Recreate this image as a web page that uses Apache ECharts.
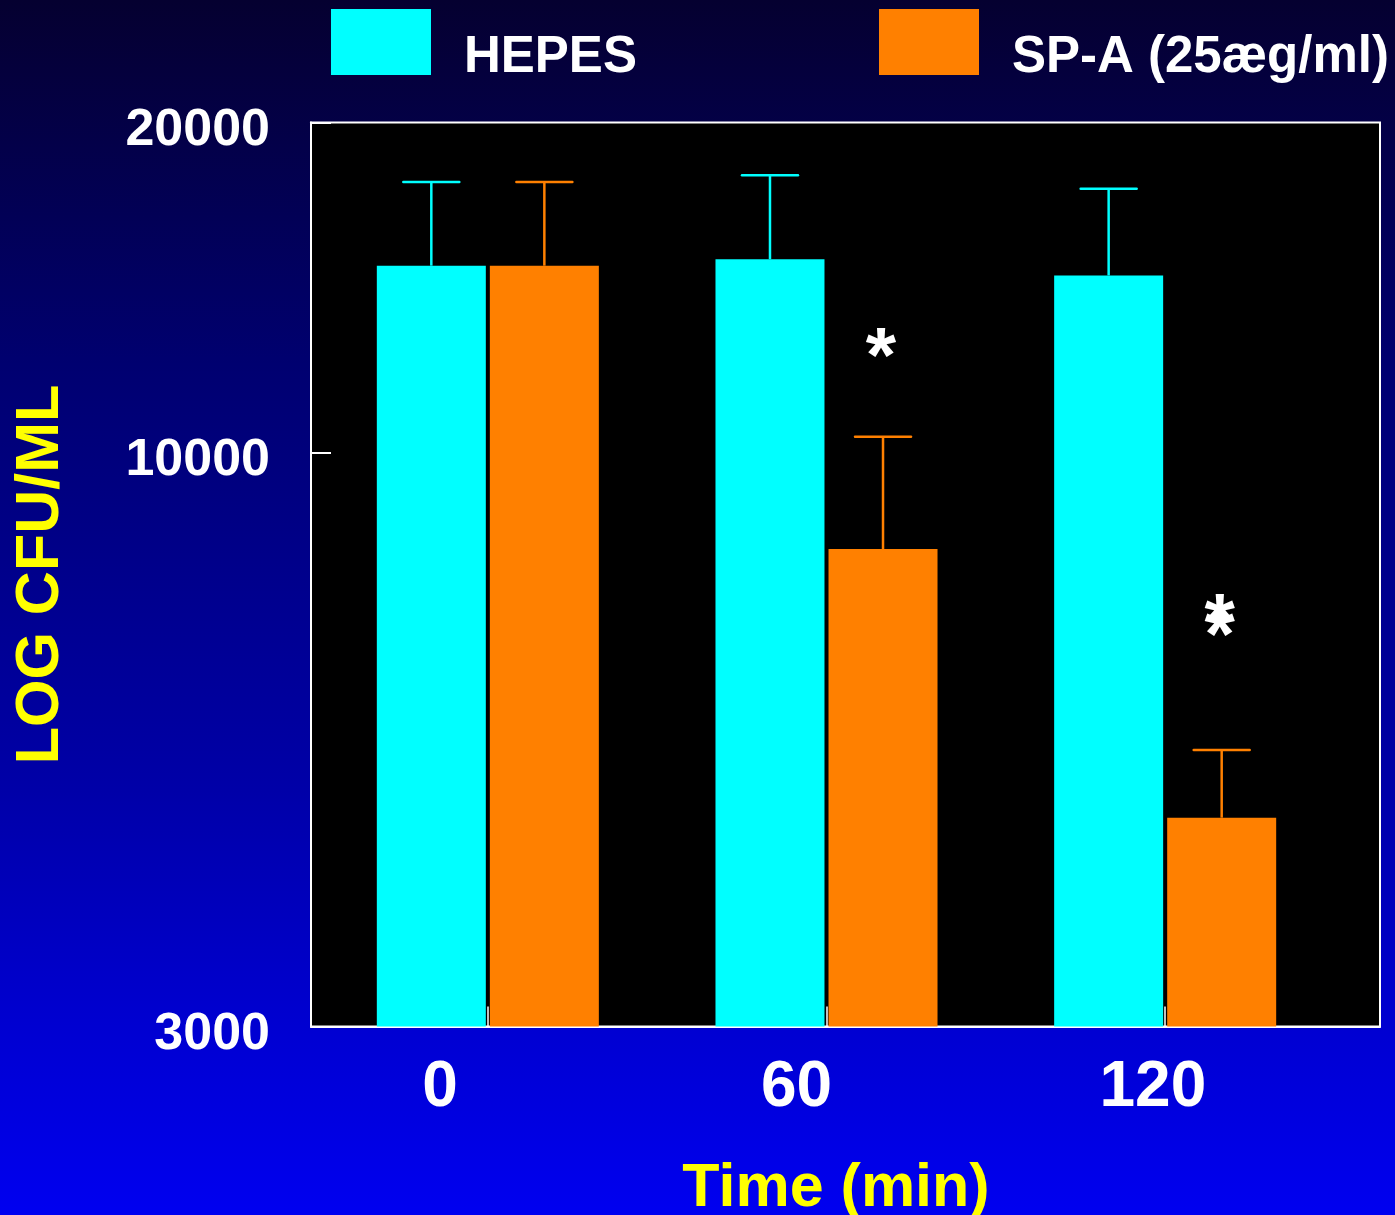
<!DOCTYPE html>
<html>
<head>
<meta charset="utf-8">
<script src="https://cdn.jsdelivr.net/npm/echarts@6/dist/echarts.min.js"></script>
<style>
html,body{margin:0;padding:0;background:#000050;}
#chart{width:1395px;height:1215px;}
</style>
</head>
<body>
<div id="chart"></div>
<script>
// ---- data ----
const timeLabels = ['0', '60', '120'];
const seriesNames = ['HEPES', 'SP-A (25æg/ml)'];
const hepesMean = [14810, 15010, 14510];
const hepesErrTop = [17650, 17900, 17400];
const spaMean = [14810, 8170, 4650];
const spaErrTop = [17650, 10340, 5360];
// significance asterisks: [category index, value at glyph centre]
const sigMarks = [[1, 12540], [2, 7176], [2, 6983]];
const yMin = 3000;
const yMax = 20000;

// ---- style constants ----
const FONT = "'Liberation Sans', Arial, sans-serif";
const CYAN = '#00FFFF';
const ORANGE = '#FF8000';
const BAR_W = 109;
const BAR_GAP = 0.037;
const HALF_STEP = (BAR_W + BAR_W * BAR_GAP) / 2;
const CAP_W = 56;
const AST_SIZE = 78;

function errRender(sign, color) {
  return function (params, api) {
    const c = api.value(0);
    const base = api.coord([c, api.value(1)]);
    const top = api.coord([c, api.value(2)]);
    const x = base[0] + sign * HALF_STEP;
    return {
      type: 'group',
      children: [
        { type: 'line', shape: { x1: x, y1: base[1], x2: x, y2: top[1] }, style: { stroke: color, lineWidth: 2.5 } },
        { type: 'line', shape: { x1: x - CAP_W / 2, y1: top[1], x2: x + CAP_W / 2, y2: top[1] }, style: { stroke: color, lineWidth: 2.5, lineCap: 'round' } }
      ]
    };
  };
}

function astRender(params, api) {
  const p = api.coord([api.value(0), api.value(1)]);
  return {
    type: 'text',
    x: p[0] + HALF_STEP - 2,
    y: p[1] + 0.23 * AST_SIZE - 2,
    style: {
      text: '*', fill: '#fff', font: 'bold ' + AST_SIZE + 'px ' + FONT,
      align: 'center', verticalAlign: 'middle'
    }
  };
}

const chart = echarts.init(document.getElementById('chart'), null, { renderer: 'canvas' });
const legendText = {
  color: '#fff', fontSize: 51, fontWeight: 'bold', fontFamily: FONT,
  rich: { t: { color: '#fff', fontSize: 51, fontWeight: 'bold', fontFamily: FONT, padding: [32, 0, 0, 28] } }
};
const legendFmt = function (name) { return '{t|' + name + '}'; };

chart.setOption({
  animation: false,
  backgroundColor: {
    type: 'linear', x: 0, y: 0, x2: 0, y2: 1,
    colorStops: [
      { offset: 0, color: '#050030' },
      { offset: 0.3, color: '#000070' },
      { offset: 0.65, color: '#0000A8' },
      { offset: 0.8, color: '#0000C8' },
      { offset: 1, color: '#0000F0' }
    ]
  },
  legend: [
    { left: 331, top: 9, padding: 0, itemWidth: 100, itemHeight: 66, icon: 'rect', data: [seriesNames[0]], textStyle: legendText, formatter: legendFmt, selectedMode: false },
    { left: 879, top: 9, padding: 0, itemWidth: 100, itemHeight: 66, icon: 'rect', data: [seriesNames[1]], textStyle: legendText, formatter: legendFmt, selectedMode: false }
  ],
  grid: [
    { left: 311, top: 122.5, width: 1069, height: 904, outerBoundsMode: 'none', containLabel: false, show: true, backgroundColor: '#000', borderColor: '#fff', borderWidth: 2 },
    { left: 318.5, top: 122.5, width: 1016, height: 904, outerBoundsMode: 'none', containLabel: false }
  ],
  xAxis: [
    {
      gridIndex: 0, type: 'category', data: timeLabels,
      axisLine: { show: true, lineStyle: { color: '#fff', width: 2 } },
      axisTick: { show: false },
      axisLabel: { color: '#fff', fontSize: 64, fontWeight: 'bold', fontFamily: FONT, margin: 30, padding: [0, 98, 0, 0] },
      name: 'Time (min)', nameLocation: 'middle', nameGap: 132,
      nameTextStyle: { color: '#FFFF00', fontSize: 61, fontWeight: 'bold', fontFamily: FONT, padding: [0, 19, 0, 0] }
    },
    {
      gridIndex: 1, type: 'category', data: timeLabels,
      axisLine: { show: false },
      axisTick: { show: true, inside: true, alignWithLabel: true, length: 20, lineStyle: { color: '#fff', width: 1.5 } },
      axisLabel: { show: false }
    }
  ],
  yAxis: [
    {
      gridIndex: 0, type: 'log', logBase: 10, min: yMin, max: yMax,
      axisLine: { show: true, lineStyle: { color: '#fff', width: 2 } },
      axisTick: { show: true, inside: true, length: 20, lineStyle: { color: '#fff', width: 2 } },
      minorTick: { show: false },
      splitLine: { show: false },
      axisLabel: {
        showMinLabel: true, showMaxLabel: true,
        color: '#fff', fontSize: 52, fontWeight: 'bold', fontFamily: FONT, margin: 41,
        verticalAlign: 'top', lineHeight: 16,
        formatter: function (v) { return String(Math.round(v)); }
      },
      name: 'LOG CFU/ML', nameLocation: 'middle', nameGap: 239,
      nameTextStyle: { color: '#FFFF00', fontSize: 61, fontWeight: 'bold', fontFamily: FONT }
    },
    { gridIndex: 1, type: 'log', logBase: 10, min: yMin, max: yMax, show: false, splitLine: { show: false } }
  ],
  series: [
    {
      name: seriesNames[0], type: 'bar', xAxisIndex: 1, yAxisIndex: 1, data: hepesMean,
      barWidth: BAR_W, barGap: (BAR_GAP * 100) + '%', clip: true, itemStyle: { color: CYAN }
    },
    {
      name: seriesNames[1], type: 'bar', xAxisIndex: 1, yAxisIndex: 1, data: spaMean,
      barWidth: BAR_W, barGap: (BAR_GAP * 100) + '%', clip: true, itemStyle: { color: ORANGE }
    },
    {
      name: 'HEPES error', type: 'custom', xAxisIndex: 1, yAxisIndex: 1, z: 3,
      renderItem: errRender(-1, CYAN),
      data: hepesMean.map(function (v, i) { return [i, v, hepesErrTop[i]]; })
    },
    {
      name: 'SP-A error', type: 'custom', xAxisIndex: 1, yAxisIndex: 1, z: 3,
      renderItem: errRender(1, ORANGE),
      data: spaMean.map(function (v, i) { return [i, v, spaErrTop[i]]; })
    },
    {
      name: 'significance', type: 'custom', xAxisIndex: 1, yAxisIndex: 1, z: 4,
      renderItem: astRender,
      data: sigMarks
    }
  ]
});
</script>
</body>
</html>
